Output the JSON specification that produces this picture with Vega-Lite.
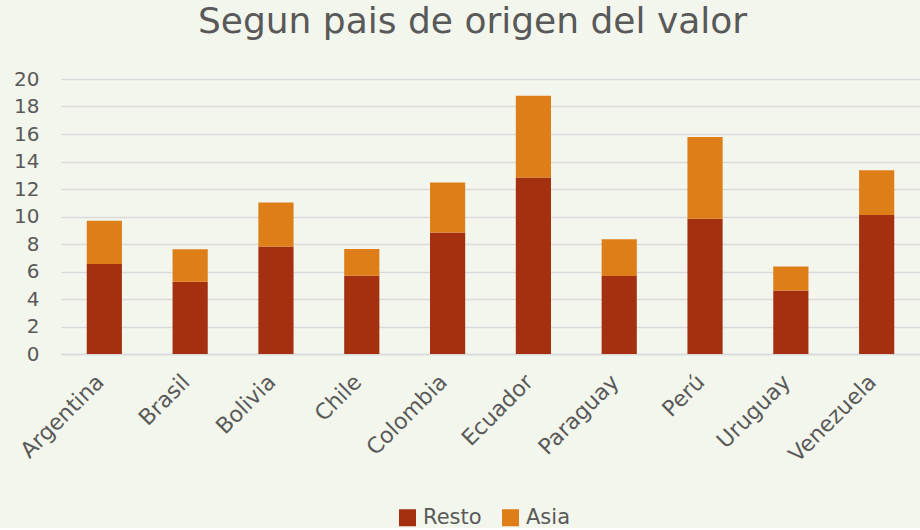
{
  "$schema": "https://vega.github.io/schema/vega-lite/v6.json",
  "width": 859,
  "height": 275,
  "padding": {"left": 13, "top": 4, "right": 0, "bottom": 0},
  "background": "#f3f6ec",
  "config": {"font": "DejaVu Sans", "view": {"stroke": null}},
  "title": {"text": "Segun pais de origen del valor", "fontSize": 36, "fontWeight": "normal", "color": "#595959", "anchor": "middle", "offset": 28, "dx": -18},
  "data": {"values": [
    {"pais": "Argentina", "serie": "Resto", "valor": 6.55},
    {"pais": "Argentina", "serie": "Asia", "valor": 3.14},
    {"pais": "Brasil", "serie": "Resto", "valor": 5.26},
    {"pais": "Brasil", "serie": "Asia", "valor": 2.35},
    {"pais": "Bolivia", "serie": "Resto", "valor": 7.81},
    {"pais": "Bolivia", "serie": "Asia", "valor": 3.20},
    {"pais": "Chile", "serie": "Resto", "valor": 5.70},
    {"pais": "Chile", "serie": "Asia", "valor": 1.94},
    {"pais": "Colombia", "serie": "Resto", "valor": 8.83},
    {"pais": "Colombia", "serie": "Asia", "valor": 3.65},
    {"pais": "Ecuador", "serie": "Resto", "valor": 12.83},
    {"pais": "Ecuador", "serie": "Asia", "valor": 5.96},
    {"pais": "Paraguay", "serie": "Resto", "valor": 5.67},
    {"pais": "Paraguay", "serie": "Asia", "valor": 2.67},
    {"pais": "Perú", "serie": "Resto", "valor": 9.84},
    {"pais": "Perú", "serie": "Asia", "valor": 5.94},
    {"pais": "Uruguay", "serie": "Resto", "valor": 4.61},
    {"pais": "Uruguay", "serie": "Asia", "valor": 1.76},
    {"pais": "Venezuela", "serie": "Resto", "valor": 10.11},
    {"pais": "Venezuela", "serie": "Asia", "valor": 3.25}
  ]},
  "mark": {"type": "bar"},
  "encoding": {
    "x": {
      "field": "pais", "type": "nominal", "sort": null,
      "scale": {"paddingInner": 0.59, "paddingOuter": 0.3},
      "axis": {"title": null, "labelAngle": -45, "labelFontSize": 22, "labelColor": "#595959", "ticks": false, "grid": false, "domainColor": "#d9d9d9", "domainWidth": 1.5, "labelPadding": 24, "labelAlign": "right", "labelBaseline": "middle", "labelOffset": -4}
    },
    "y": {
      "field": "valor", "type": "quantitative", "stack": "zero",
      "scale": {"domain": [0, 20], "nice": false},
      "axis": {"title": null, "values": [0, 2, 4, 6, 8, 10, 12, 14, 16, 18, 20], "grid": true, "gridColor": "#d9d9d9", "gridWidth": 1.5, "domain": false, "ticks": false, "labelFontSize": 20, "labelColor": "#595959", "labelPadding": 22}
    },
    "color": {
      "field": "serie", "type": "nominal",
      "scale": {"domain": ["Resto", "Asia"], "range": ["#a5300f", "#de7e19"]},
      "legend": {"orient": "none", "legendX": 336, "legendY": 428, "direction": "horizontal", "title": null, "symbolType": "square", "symbolSize": 290, "symbolStrokeWidth": 0, "labelFontSize": 21, "labelColor": "#595959", "columnPadding": 18, "labelOffset": 5}
    },
    "order": {"field": "serie", "sort": "descending"}
  }
}
